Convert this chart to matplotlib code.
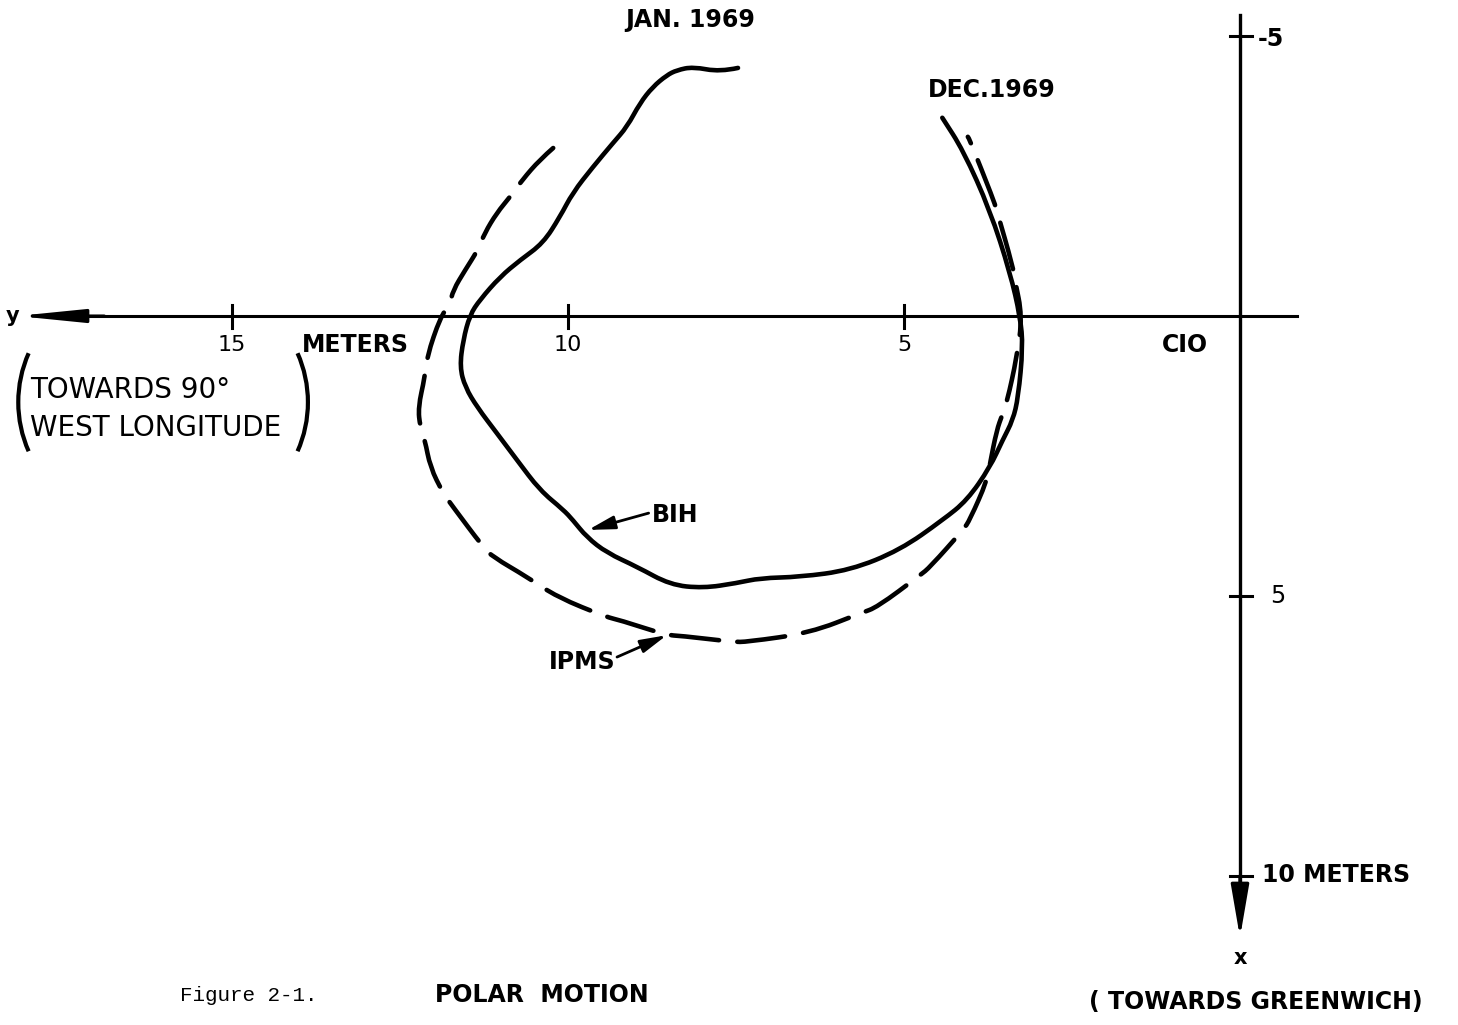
import matplotlib
matplotlib.use("Agg")
import matplotlib.pyplot as plt
from matplotlib.patches import Arc, PathPatch
from matplotlib.path import Path

# polar motion in meters: y (towards 90 W, to the left), x (towards Greenwich, downward)
bih_y = [7.47, 7.74, 8.14, 8.38, 8.53, 8.74, 8.93, 9.12, 9.33, 9.63, 9.93, 10.12,
         10.37, 10.71, 11.01, 11.31, 11.46, 11.56, 11.61, 11.53, 11.35, 11.06, 10.76,
         10.42, 10.07, 9.93, 9.72, 9.42, 8.97, 8.48, 7.99, 7.49, 7.14, 6.55, 5.80,
         5.06, 4.42, 4.06, 3.72, 3.53, 3.38, 3.30, 3.23, 3.27, 3.42, 3.72, 4.12, 4.43]
bih_x = [-4.43, -4.36, -4.45, -4.39, -4.30, -4.09, -3.80, -3.38, -3.09, -2.66, -2.20,
         -1.77, -1.30, -1.00, -0.70, -0.29, -0.02, 0.43, 0.91, 1.27, 1.63, 2.09, 2.57,
         3.11, 3.46, 3.64, 3.95, 4.23, 4.48, 4.80, 4.86, 4.77, 4.68, 4.66, 4.54, 4.18,
         3.64, 3.29, 2.70, 2.21, 1.86, 1.45, 0.55, 0.02, -0.77, -1.89, -2.96, -3.54]

ipms_y = [10.22, 10.42, 10.68, 10.86, 11.06, 11.24, 11.34, 11.53, 11.71, 11.76, 11.90,
          12.10, 12.13, 12.23, 12.20, 12.13, 12.05, 11.86, 11.71, 11.26, 11.12, 10.61,
          10.16, 9.42, 9.23, 8.53, 8.33, 7.54, 7.34, 6.40, 5.63, 5.40, 4.76, 4.61, 4.12,
          4.02, 3.76, 3.72, 3.62, 3.54, 3.47, 3.32, 3.24, 3.35, 3.38, 3.62, 3.68, 4.02, 4.05]
ipms_x = [-3.00, -2.79, -2.43, -2.13, -1.84, -1.48, -1.18, -0.82, -0.46, -0.20, 0.02,
          0.73, 1.09, 1.63, 1.98, 2.21, 2.70, 3.16, 3.41, 4.13, 4.30, 4.66, 5.02, 5.38,
          5.43, 5.70, 5.71, 5.82, 5.82, 5.66, 5.30, 5.20, 4.63, 4.48, 3.82, 3.64, 2.93,
          2.63, 2.04, 1.77, 1.55, 0.73, 0.00, -0.64, -0.88, -1.89, -2.11, -3.14, -3.20]

y_ticks = [15, 10, 5]
x_ticks = [-5, 5, 10]

BOLD = dict(family="DejaVu Sans", fontweight="bold", color="black")


def smooth_path(xs, ys):
    # quadratic bezier through midpoints, so the hand drawn curves look smooth
    verts = [(xs[0], ys[0])]
    codes = [Path.MOVETO]
    for i in range(1, len(xs) - 1):
        verts.append((xs[i], ys[i]))
        verts.append(((xs[i] + xs[i + 1]) / 2, (ys[i] + ys[i + 1]) / 2))
        codes += [Path.CURVE3, Path.CURVE3]
    verts.append((xs[-1], ys[-1]))
    codes.append(Path.LINETO)
    return Path(verts, codes)


fig = plt.figure(figsize=(14.58, 10.25), dpi=100)
ax = fig.add_axes([0, 0, 1, 1])
ax.set_xlim(18.452, -3.244)
ax.set_ylim(12.661, -5.643)
ax.axis("off")

# axes with arrows
ax.plot([-0.85, 17.3], [0, 0], color="black", lw=2.2)
ax.plot([0, 0], [-5.38, 10.3], color="black", lw=2.4)
ax.annotate("", xy=(18.2, 0), xytext=(16.9, 0),
            arrowprops=dict(arrowstyle="-|>,head_length=4,head_width=0.4",
                            mutation_scale=10, lw=2.2, color="black", shrinkA=0, shrinkB=0))
ax.annotate("", xy=(0, 11.1), xytext=(0, 10.0),
            arrowprops=dict(arrowstyle="-|>,head_length=3.2,head_width=0.55",
                            mutation_scale=10, lw=2.4, color="black", shrinkA=0, shrinkB=0))

for v in y_ticks:
    ax.plot([v, v], [-0.2, 0.21], color="black", lw=2.2)
    ax.text(v, 0.52, str(v), ha="center", va="center", fontsize=16, family="DejaVu Sans")
for v in x_ticks:
    ax.plot([0.15, -0.18], [v, v], color="black", lw=2.2)

ax.text(-0.27, -4.95, "-5", ha="left", va="center", fontsize=17, **BOLD)
ax.text(-0.45, 5.0, "5", ha="left", va="center", fontsize=17, family="DejaVu Sans")
ax.text(-0.33, 9.98, "10 METERS", ha="left", va="center", fontsize=17, **BOLD)
ax.text(13.17, 0.52, "METERS", ha="center", va="center", fontsize=17, **BOLD)
ax.text(0.82, 0.52, "CIO", ha="center", va="center", fontsize=17, **BOLD)

# curves
ax.add_patch(PathPatch(smooth_path(bih_y, bih_x), fill=False, edgecolor="black",
                       lw=3.3, capstyle="round", joinstyle="round"))
ax.add_patch(PathPatch(smooth_path(ipms_y, ipms_x), fill=False, edgecolor="black",
                       lw=3.3, linestyle=(0, (10.5, 4)), capstyle="round", joinstyle="round"))

ax.text(8.18, -5.29, "JAN. 1969", ha="center", va="center", fontsize=17, **BOLD)
ax.text(3.69, -4.04, "DEC.1969", ha="center", va="center", fontsize=17, **BOLD)

# labels with pointers
ax.text(8.75, 3.55, "BIH", ha="left", va="center", fontsize=17, **BOLD)
ax.annotate("", xy=(9.70, 3.82), xytext=(8.80, 3.52),
            arrowprops=dict(arrowstyle="-|>,head_length=1.6,head_width=0.4",
                            mutation_scale=10, lw=2, color="black", shrinkA=0, shrinkB=0))
ax.text(9.79, 6.18, "IPMS", ha="center", va="center", fontsize=17, **BOLD)
ax.annotate("", xy=(8.53, 5.70), xytext=(9.27, 6.09),
            arrowprops=dict(arrowstyle="-|>,head_length=1.6,head_width=0.4",
                            mutation_scale=10, lw=2, color="black", shrinkA=0, shrinkB=0))

# axis captions
ax.text(18.26, 0.0, "y", ha="center", va="center", fontsize=15, **BOLD)
ax.text(0.0, 11.46, "x", ha="center", va="center", fontsize=15, **BOLD)
ax.text(-0.24, 12.25, "( TOWARDS GREENWICH)", ha="center", va="center", fontsize=17, **BOLD)
ax.text(18.0, 1.32, "TOWARDS 90°", ha="left", va="center", fontsize=20, family="DejaVu Sans")
ax.text(18.0, 2.0, "WEST LONGITUDE", ha="left", va="center", fontsize=20, family="DejaVu Sans")
ax.add_patch(Arc((16.38, 1.54), 3.6, 4.32, theta1=-28, theta2=28, lw=3, color="black"))
ax.add_patch(Arc((15.67, 1.54), 3.6, 4.32, theta1=152, theta2=208, lw=3, color="black"))

ax.text(15.77, 12.13, "Figure 2-1.", ha="left", va="center", fontsize=15, family="Liberation Mono")
ax.text(11.98, 12.13, "POLAR  MOTION", ha="left", va="center", fontsize=17, **BOLD)

fig.savefig("out.png", dpi=100, facecolor="white")
